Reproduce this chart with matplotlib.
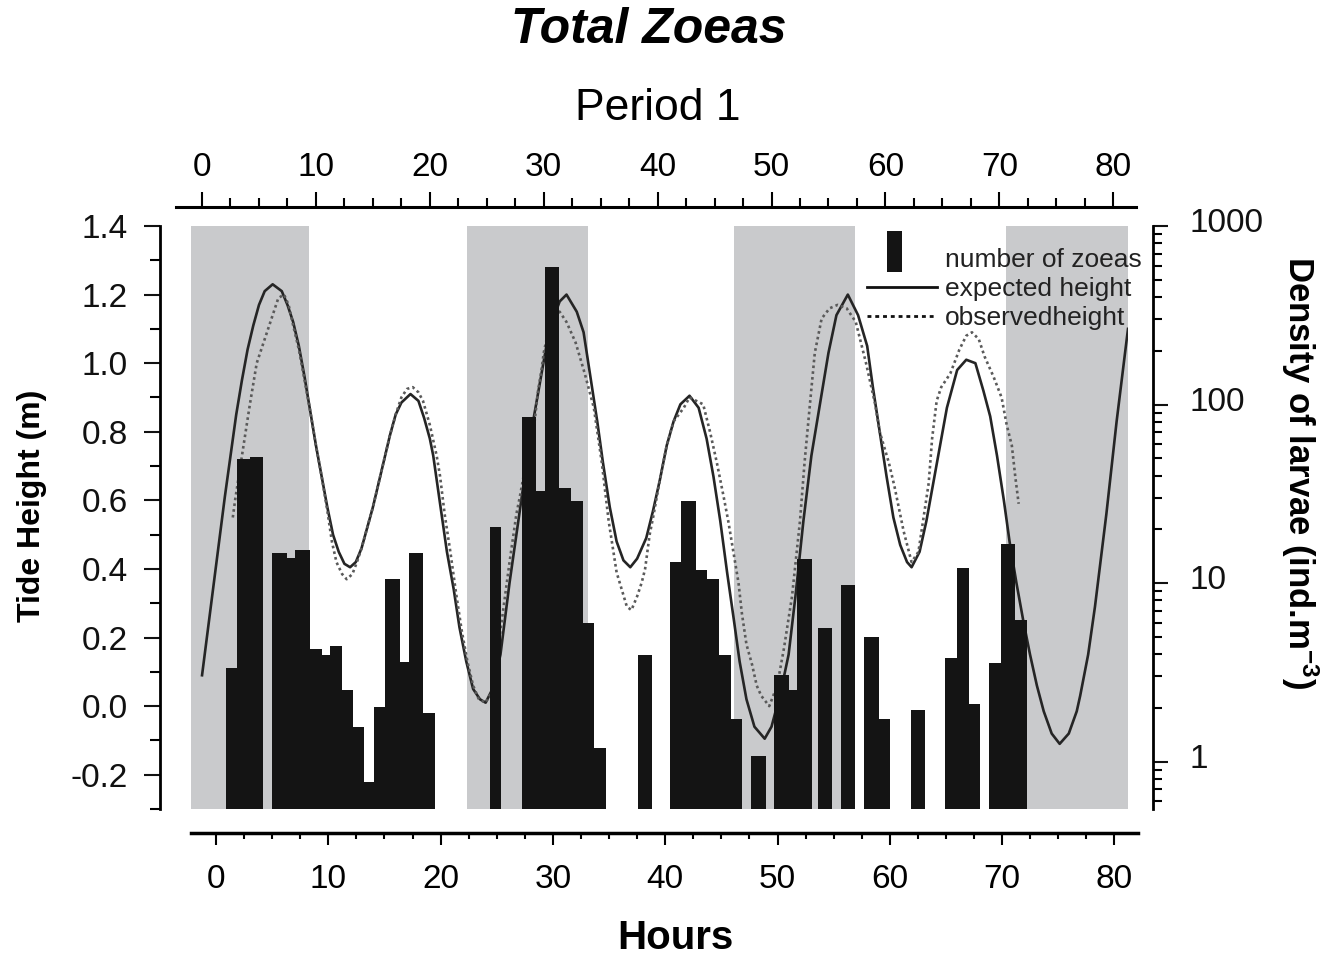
import matplotlib
matplotlib.use("Agg")
import matplotlib.pyplot as plt
import numpy as np
from matplotlib.patches import Rectangle
from matplotlib.lines import Line2D
from matplotlib.legend_handler import HandlerPatch
from matplotlib.transforms import ScaledTranslation
from matplotlib.ticker import MultipleLocator, FixedLocator, FuncFormatter, FormatStrFormatter

plt.rcParams["font.family"] = ["Liberation Sans", "DejaVu Sans"]
plt.rcParams["axes.unicode_minus"] = False
plt.rcParams["mathtext.default"] = "regular"

# -------------------------------
# Data (hours on the "Period 1" scale)
# -------------------------------
night_start = [-0.97, 23.27, 46.71, 70.59]
night_end = [9.39, 33.89, 57.33, 81.30]

exp_hours = [0.0, 0.5, 1.0, 1.5, 2.0, 2.5, 3.0, 3.5, 4.0, 4.5, 5.0, 5.5, 6.2, 7.0, 7.5,
             8.0, 8.5, 9.0, 9.5, 10.0, 10.5, 11.0, 11.5, 12.0, 12.5, 13.0, 13.5, 14.0,
             14.5, 15.0, 15.5, 16.0, 16.5, 17.0, 17.5, 18.3, 19.0, 19.5, 20.0, 20.3,
             20.9, 21.5, 22.1, 22.6, 23.2, 23.8, 24.4, 24.9, 25.5, 26.2, 27.0, 27.9,
             28.8, 29.7, 30.5, 31.4, 32.0, 32.9, 33.5, 34.1, 34.7, 35.2, 35.8, 36.4,
             37.0, 37.6, 38.2, 38.6, 39.0, 39.6, 40.2, 40.8, 41.4, 42.0, 42.8, 43.6,
             44.3, 44.9, 45.5, 46.1, 46.7, 47.2, 47.8, 48.5, 49.4, 50.0, 50.8, 51.5,
             52.1, 52.8, 53.5, 54.3, 55.0, 55.7, 56.7, 57.6, 58.4, 58.9, 59.5, 60.1,
             60.7, 61.3, 61.9, 62.3, 63.0, 63.6, 64.2, 64.8, 65.4, 66.3, 67.1, 67.9,
             68.6, 69.2, 69.8, 70.4, 70.9, 71.5, 72.1, 72.7, 73.3, 73.9, 74.6, 75.3,
             76.1, 76.8, 77.1, 77.8, 78.4, 79.4, 80.3, 81.3]
exp_height = [0.09, 0.22, 0.35, 0.48, 0.61, 0.73, 0.85, 0.95, 1.04, 1.11, 1.17, 1.21, 1.23,
              1.21, 1.17, 1.12, 1.05, 0.96, 0.86, 0.76, 0.67, 0.58, 0.50, 0.45, 0.415, 0.405,
              0.42, 0.46, 0.52, 0.58, 0.65, 0.72, 0.79, 0.85, 0.885, 0.91, 0.89, 0.84, 0.78,
              0.73, 0.59, 0.45, 0.34, 0.23, 0.13, 0.05, 0.02, 0.01, 0.05, 0.15, 0.36, 0.57,
              0.78, 0.95, 1.10, 1.18, 1.20, 1.15, 1.09, 0.96, 0.83, 0.71, 0.58, 0.48, 0.425,
              0.405, 0.43, 0.46, 0.49, 0.57, 0.66, 0.76, 0.83, 0.88, 0.905, 0.87, 0.78, 0.67,
              0.54, 0.39, 0.25, 0.13, 0.02, -0.06, -0.095, -0.06, 0.04, 0.15, 0.32, 0.54,
              0.73, 0.89, 1.03, 1.14, 1.20, 1.14, 1.05, 0.93, 0.80, 0.67, 0.55, 0.47, 0.42,
              0.405, 0.45, 0.54, 0.65, 0.76, 0.87, 0.98, 1.01, 1.00, 0.92, 0.845, 0.73, 0.60,
              0.48, 0.36, 0.25, 0.15, 0.06, -0.015, -0.08, -0.11, -0.08, -0.015, 0.03, 0.15,
              0.29, 0.56, 0.83, 1.10]

obs_hours = [2.7, 2.9, 3.6, 4.2, 4.8, 5.4, 5.8, 6.3, 6.7, 7.2, 7.6, 8.0, 8.5, 9.0, 9.5,
             10.0, 10.5, 11.0, 11.4, 11.8, 12.3, 12.7, 13.2, 13.6, 14.0, 14.5, 15.0, 15.5,
             16.0, 16.5, 17.0, 17.5, 18.0, 18.5, 19.0, 19.4, 20.0, 20.6, 20.9, 21.3, 21.8,
             22.3, 22.8, 23.3, 23.8, 24.3, 24.9, 25.4, 25.9, 26.4, 27.0, 27.6, 27.9, 28.5,
             29.2, 29.5, 29.8, 30.0, 30.5, 31.0, 31.4, 32.0, 32.8, 33.6, 34.4, 35.1, 35.7,
             36.4, 37.3, 37.7, 38.2, 38.6, 38.9, 39.3, 39.6, 40.2, 40.8, 41.4, 42.3, 42.8,
             43.4, 44.0, 44.6, 45.2, 45.8, 46.2, 46.65, 47.1, 47.4, 47.8, 48.3, 48.7, 49.1,
             49.8, 50.5, 51.1, 51.8, 52.5, 52.9, 53.4, 53.8, 54.4, 55.1, 55.8, 56.6, 57.4,
             58.3, 59.1, 59.5, 60.3, 60.8, 61.6, 62.3, 62.9, 63.4, 63.8, 64.1, 64.5, 64.9,
             65.7, 66.5, 67.1, 67.6, 68.2, 68.7, 69.5, 70.2, 70.65, 71.1, 71.4, 71.7]
obs_height = [0.55, 0.60, 0.75, 0.88, 1.00, 1.06, 1.10, 1.15, 1.19, 1.20, 1.17, 1.11, 1.04,
              0.95, 0.86, 0.76, 0.67, 0.57, 0.48, 0.42, 0.385, 0.37, 0.385, 0.42, 0.46, 0.52,
              0.58, 0.65, 0.72, 0.79, 0.85, 0.90, 0.925, 0.93, 0.915, 0.89, 0.82, 0.73, 0.67,
              0.56, 0.45, 0.33, 0.22, 0.13, 0.06, 0.02, 0.01, 0.04, 0.14, 0.27, 0.42, 0.56,
              0.61, 0.72, 0.83, 0.92, 0.98, 1.03, 1.11, 1.15, 1.15, 1.12, 1.06, 0.97, 0.87,
              0.71, 0.54, 0.39, 0.29, 0.28, 0.32, 0.36, 0.40, 0.50, 0.55, 0.66, 0.76, 0.83,
              0.87, 0.90, 0.89, 0.88, 0.80, 0.71, 0.61, 0.54, 0.45, 0.36, 0.27, 0.18, 0.12,
              0.06, 0.03, 0.00, 0.06, 0.17, 0.32, 0.54, 0.71, 0.89, 1.03, 1.13, 1.16, 1.17,
              1.16, 1.12, 1.00, 0.88, 0.80, 0.71, 0.64, 0.51, 0.42, 0.45, 0.56, 0.65, 0.78,
              0.89, 0.93, 0.97, 1.04, 1.08, 1.09, 1.07, 1.02, 0.96, 0.90, 0.82, 0.76, 0.67,
              0.59]

bar_start = [2.11, 3.05, 4.21, 6.12, 7.44, 8.17, 9.48, 10.51, 11.24, 12.27, 13.23, 14.25,
             15.10, 16.07, 17.38, 18.17, 19.38, 25.29, 28.07, 29.32, 30.11, 31.34, 32.37,
             33.45, 34.42, 38.31, 41.09, 42.05, 43.37, 44.31, 45.39, 46.42, 48.20, 50.22,
             51.51, 52.21, 54.11, 56.10, 58.12, 59.44, 62.25, 65.23, 66.31, 67.34, 69.10,
             70.18, 71.38]
bar_end = [3.05, 4.21, 5.33, 7.44, 8.17, 9.48, 10.51, 11.24, 12.27, 13.23, 14.25, 15.10,
           16.07, 17.38, 18.17, 19.38, 20.46, 26.25, 29.32, 30.11, 31.34, 32.37, 33.45,
           34.42, 35.44, 39.51, 42.05, 43.37, 44.31, 45.39, 46.42, 47.41, 49.52, 51.51,
           52.21, 53.56, 55.31, 57.33, 59.44, 60.40, 63.48, 66.31, 67.34, 68.31, 70.18,
           71.38, 72.41]
zoea_density = [3.33, 49.3, 51.0, 14.8, 13.8, 15.4, 4.3, 3.97, 4.47, 2.52, 1.57, 0.77,
                2.03, 10.6, 3.6, 14.8, 1.88, 20.7, 85.5, 32.6, 586.0, 33.9, 29.0, 6.0,
                1.2, 3.97, 13.2, 29.0, 11.9, 10.6, 3.97, 1.73, 1.08, 3.07, 2.52, 13.7,
                5.59, 9.8, 5.0, 1.73, 1.95, 3.82, 12.2, 2.11, 3.59, 16.6, 6.2]

# -------------------------------
# Layout helpers
# -------------------------------
W, H = 1329, 959
PT = 0.72  # points per pixel at dpi 100


def px_box(x0, y0, x1, y1):
    return [x0 / W, 1 - y1 / H, (x1 - x0) / W, (y1 - y0) / H]


fig = plt.figure(figsize=(W / 100, H / 100), dpi=100)

# main axes: tide height (left) and larval density (right)
ax = fig.add_axes(px_box(191, 226, 1128, 809))
ax.set_xlim(night_start[0], night_end[-1])
ax.set_ylim(-0.3, 1.4)

for s, e in zip(night_start, night_end):
    ax.axvspan(s, e, color="#c9cacc", lw=0, zorder=0)

ax.plot(exp_hours, exp_height, color="#252525", lw=1.9, zorder=2)
ax.plot(obs_hours, obs_height, color="#5a5a5a", lw=1.9, ls=(0, (1, 1.2)), zorder=2)

for side in ["top", "bottom", "right"]:
    ax.spines[side].set_visible(False)
ax.spines["left"].set_position(("outward", 31 * PT))
ax.spines["left"].set_linewidth(2.0)
ax.tick_params(axis="x", which="both", bottom=False, labelbottom=False)
ax.yaxis.set_major_locator(MultipleLocator(0.2))
ax.yaxis.set_minor_locator(MultipleLocator(0.1))
ax.yaxis.set_major_formatter(FormatStrFormatter("%.1f"))
ax.tick_params(axis="y", which="major", direction="out", length=16 * PT, width=1.5,
               labelsize=24, pad=16 * PT, colors="#111111")
ax.tick_params(axis="y", which="minor", direction="out", length=10 * PT, width=1.5)

ax2 = ax.twinx()
ax2.set_yscale("log")
ax2.bar(bar_start, zoea_density, width=np.array(bar_end) - np.array(bar_start),
        align="edge", color="#141414", lw=0, zorder=3)
ax2.set_ylim(0.543, 1000)
ax2.set_xlim(night_start[0], night_end[-1])
for side in ["top", "bottom", "left"]:
    ax2.spines[side].set_visible(False)
ax2.spines["right"].set_position(("outward", 25 * PT))
ax2.spines["right"].set_linewidth(2.0)
ax2.yaxis.set_major_locator(FixedLocator([1, 10, 100, 1000]))
ax2.yaxis.set_major_formatter(FuncFormatter(lambda v, p: f"{v:g}"))
ax2.tick_params(axis="y", which="major", direction="out", length=15 * PT, width=1.5,
                labelsize=24, pad=22 * PT, colors="#111111")
ax2.tick_params(axis="y", which="minor", direction="out", length=9 * PT, width=1.5)
ax2.tick_params(axis="x", which="both", bottom=False, labelbottom=False)
# density labels sit a little above their ticks in the original
lift = ScaledTranslation(0, 6 / 100, fig.dpi_scale_trans)
for tick in ax2.yaxis.get_major_ticks():
    tick.label2.set_transform(tick.label2.get_transform() + lift)

# legend
bar_key = Rectangle((0, 0), 1, 1, facecolor="#141414")
exp_key = Line2D([], [], color="#111111", lw=2.0)
obs_key = Line2D([], [], color="#111111", lw=2.0, ls=(0, (1.4, 1.4)))


def tall_bar(legend, orig_handle, xdescent, ydescent, width, height, fontsize):
    return Rectangle((-xdescent + 0.29 * width, -ydescent - 0.32 * height),
                     0.21 * width, 2.27 * height)


leg = ax2.legend([bar_key, exp_key, obs_key],
                 ["number of zoeas", "expected height", "observedheight"],
                 handler_map={bar_key: HandlerPatch(patch_func=tall_bar)},
                 loc="upper left", bbox_to_anchor=(0.7215, 0.963), frameon=False,
                 fontsize=19, handlelength=2.65, handletextpad=0.3, labelspacing=0.2,
                 borderpad=0, borderaxespad=0)
for t in leg.get_texts():
    t.set_color("#222222")

# top hour axis ("Period 1")
axt = fig.add_axes(px_box(176, 207.5, 1136, 208))
axt.patch.set_visible(False)
axt.set_xlim(-2.28, 82.0)
for side in ["bottom", "left", "right"]:
    axt.spines[side].set_visible(False)
axt.spines["top"].set_linewidth(2.2)
axt.set_yticks([])
axt.xaxis.set_ticks_position("top")
axt.xaxis.set_label_position("top")
axt.xaxis.set_major_locator(MultipleLocator(10))
axt.xaxis.set_minor_locator(MultipleLocator(2.5))
axt.tick_params(axis="x", which="major", direction="out", length=15 * PT, width=1.5,
                labelsize=24, pad=9 * PT, top=True, labeltop=True,
                bottom=False, labelbottom=False)
axt.tick_params(axis="x", which="minor", direction="out", length=9 * PT, width=1.5,
                top=True, bottom=False)

# bottom hour axis ("Hours")
axb = fig.add_axes(px_box(191, 832, 1138, 832.5))
axb.patch.set_visible(False)
axb.set_xlim(-2.23, 82.1)
for side in ["top", "left", "right"]:
    axb.spines[side].set_visible(False)
axb.spines["bottom"].set_linewidth(2.5)
axb.set_yticks([])
axb.xaxis.set_major_locator(MultipleLocator(10))
axb.xaxis.set_minor_locator(MultipleLocator(2.5))
axb.tick_params(axis="x", which="major", direction="out", length=12 * PT, width=1.5,
                labelsize=24, pad=19 * PT)
axb.tick_params(axis="x", which="minor", direction="out", length=6 * PT, width=1.5)

# titles and axis labels
fig.text(649 / W, 1 - 30 / H, "Total Zoeas", ha="center", va="center", fontsize=36,
         fontweight="bold", fontstyle="italic")
fig.text(658 / W, 1 - 108 / H, "Period 1", ha="center", va="center", fontsize=32)
fig.text(675 / W, 1 - 938 / H, "Hours", ha="center", va="center", fontsize=29,
         fontweight="bold")
fig.text(32 / W, 1 - 506 / H, "Tide Height (m)", ha="center", va="center", fontsize=23,
         fontweight="bold", rotation=90)
fig.text(1300 / W, 1 - 472 / H, "Density of larvae (ind.m$^{-3}$)", ha="center",
         va="center", fontsize=25, fontweight="bold", rotation=270)

fig.savefig("out.png", dpi=100)
